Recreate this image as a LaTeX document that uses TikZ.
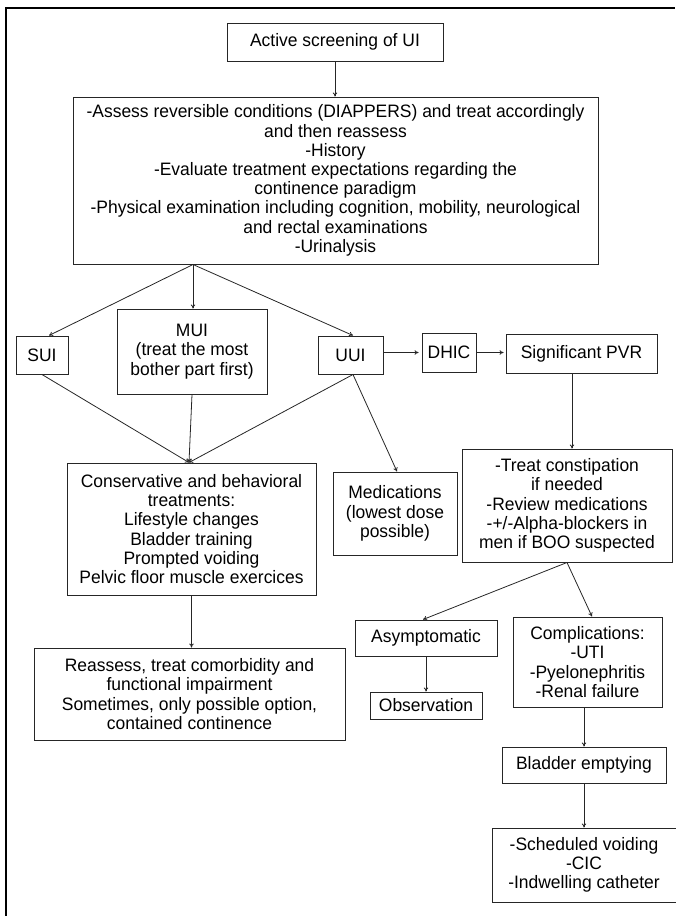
\documentclass[tikz,border=0pt]{standalone}
\usepackage{fontspec}
\setmainfont{Liberation Sans}[FakeStretch=0.97]
\usetikzlibrary{arrows.meta,calc}

\begin{document}
\begin{tikzpicture}[x=1pt,y=-1pt,
    box/.style={draw=black!85, line width=1pt, align=center, inner sep=0pt,
      font=\fontsize{18}{19.2}\selectfont},
    arr/.style={-{To[length=4pt,width=4.5pt]}, line width=0.8pt, draw=black!85}]
        \useasboundingbox (0,0) rectangle (675,916);
        \draw[line width=1.3pt] (6,916) -- (6,8) -- (675,8);

        \node[box, minimum width=216pt, minimum height=38pt] (scr) at (335,42) {Active screening of UI};
        \node[box, minimum width=525pt, minimum height=167pt] (asmt) at (335.5,180.5) {-Assess reversible conditions (DIAPPERS) and treat accordingly\\and then reassess\\-History\\-Evaluate treatment expectations regarding the\\continence paradigm\\-Physical examination including cognition, mobility, neurological\\and rectal examinations\\-Urinalysis};

        \node[box, minimum width=52pt, minimum height=38pt] (sui) at (42,355) {SUI};
        \node[box, minimum width=150pt, minimum height=85pt] (mui) at (192,351.5) {MUI\\(treat the most\\bother part first)};
        \node[box, minimum width=65pt, minimum height=38pt] (uui) at (350.5,355) {UUI};
        \node[box, minimum width=54pt, minimum height=39pt] (dhic) at (449,352.5) {DHIC};
        \node[box, minimum width=151pt, minimum height=39pt] (pvr) at (581.5,353.5) {Significant PVR};

        \node[box, minimum width=249pt, minimum height=132pt] (cons) at (191.5,529) {Conservative and behavioral\\treatments:\\Lifestyle changes\\Bladder training\\Prompted voiding\\Pelvic floor muscle exercices};
        \node[box, minimum width=124pt, minimum height=83pt] (meds) at (395,513.5) {Medications\\(lowest dose\\possible)};
        \node[box, minimum width=210pt, minimum height=113pt] (trt) at (567,505.5) {-Treat constipation\\if needed\\-Review medications\\-+/-Alpha-blockers in\\men if BOO suspected};

        \node[box, minimum width=311pt, minimum height=92pt] (reas) at (189.5,694) {Reassess, treat comorbidity and\\functional impairment\\Sometimes, only possible option,\\contained continence};
        \node[box, minimum width=142pt, minimum height=36pt] (asym) at (426,638) {Asymptomatic};
        \node[box, minimum width=112pt, minimum height=27pt] (obs) at (426,705.5) {Observation};
        \node[box, minimum width=149pt, minimum height=90pt] (comp) at (587.5,662) {Complications:\\-UTI\\-Pyelonephritis\\-Renal failure};
        \node[box, minimum width=164pt, minimum height=36pt] (empt) at (584,765) {Bladder emptying};
        \node[box, minimum width=184pt, minimum height=74pt] (sched) at (584,865) {-Scheduled voiding\\-CIC\\-Indwelling catheter};

        \draw[arr] (scr.south) -- (scr.south |- asmt.north);
        \coordinate (split) at ([xshift=-142.5pt]asmt.south);
        \draw[arr] (split) -- ([xshift=7pt]sui.north);
        \draw[arr] (split) -- (split |- mui.north);
        \draw[arr] (split) -- ([xshift=2.5pt]uui.north);

        \coordinate (join) at ([xshift=-2.5pt]cons.north);
        \draw[arr] (sui.south) -- (join);
        \draw[arr] (mui.south) -- (join);
        \draw[arr] ([xshift=2.5pt]uui.south) -- (join);
        \draw[arr] ([xshift=2.5pt]uui.south) -- ([xshift=2pt]meds.north);

        \draw[arr, shorten >=3pt] (dhic.west -| uui.east) -- (dhic.west);
        \draw[arr, shorten >=2pt] (dhic.east) -- (dhic.east -| pvr.west);
        \draw[arr] ([xshift=-9.5pt]pvr.south) -- ([xshift=-9.5pt]pvr.south |- trt.north);

        \draw[arr] (trt.south) -- ([xshift=-3pt]asym.north);
        \draw[arr] (trt.south) -- ([xshift=4.5pt]comp.north);
        \draw[arr] (asym.south) -- (obs.north);
        \draw[arr] (empt.north |- comp.south) -- (empt.north);
        \draw[arr] (empt.south) -- (sched.north);
        \draw[arr] (cons.south) -- (cons.south |- reas.north);
\end{tikzpicture}
\end{document}
